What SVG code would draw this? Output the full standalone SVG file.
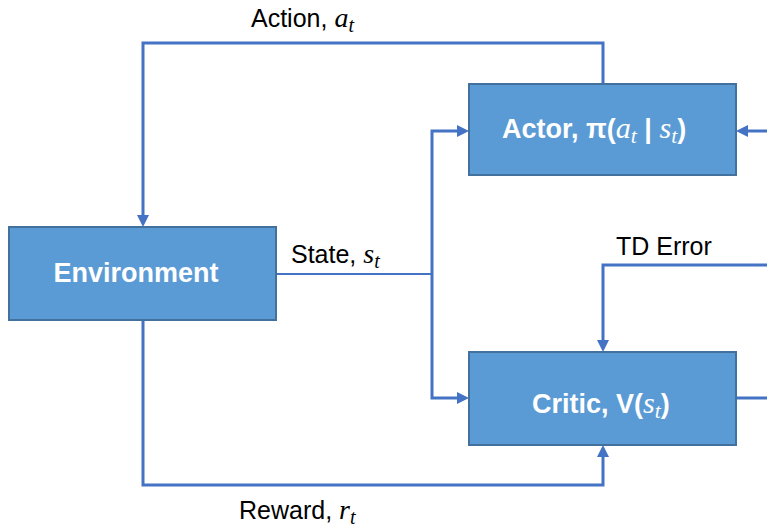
<svg xmlns="http://www.w3.org/2000/svg" width="767" height="527" viewBox="0 0 767 527">
  <style>
    .box { fill: #5B9BD5; stroke: #41719C; stroke-width: 2; }
    .title { font-family: "Liberation Sans", Arial, sans-serif; font-weight: bold; font-size: 27px; fill: #FFFFFF; }
    .label { font-family: "Liberation Sans", Arial, sans-serif; font-size: 25px; fill: #000000; }
    .math { font-family: "Liberation Serif", "DejaVu Serif", serif; font-style: italic; font-weight: normal; font-size: 1.12em; }
    .sub { font-family: "Liberation Serif", "DejaVu Serif", serif; font-style: italic; font-weight: normal; font-size: 0.8em; }
    .wire { fill: none; stroke: #4472C4; stroke-width: 3; }
    .thin { fill: none; stroke: #4472C4; stroke-width: 1.8; }
  </style>
  <defs>
    <marker id="arrow" markerUnits="userSpaceOnUse" markerWidth="12" markerHeight="12" refX="2" refY="6" orient="auto">
      <path d="M0,0 L12,6 L0,12 z" fill="#4472C4"/>
    </marker>
  </defs>

  <!-- connectors -->
  <g id="connectors">
    <!-- action from actor back to the environment -->
    <path class="wire" d="M603,84 V43 H143 V217" marker-end="url(#arrow)"/>
    <!-- reward from the environment to the critic -->
    <path class="wire" d="M143,320 V485 H603 V455" marker-end="url(#arrow)"/>
    <!-- state out of the environment, split to actor and critic -->
    <path class="thin" d="M276,274 H432"/>
    <path class="wire" d="M432,274 V131 H459" marker-end="url(#arrow)"/>
    <path class="wire" d="M432,274 V398 H459" marker-end="url(#arrow)"/>
    <!-- TD error into the critic -->
    <path class="wire" d="M767,265 H603 V342" marker-end="url(#arrow)"/>
    <!-- critic output to the right edge -->
    <path class="wire" d="M736,398 H767"/>
    <!-- feedback into the actor from the right -->
    <path class="wire" d="M767,131 H746" marker-end="url(#arrow)"/>
  </g>

  <!-- edge labels -->
  <text class="label" x="251" y="27">Action, <tspan class="math">a</tspan><tspan class="sub" dy="5">t</tspan></text>
  <text class="label" x="291" y="263">State, <tspan class="math">s</tspan><tspan class="sub" dy="5">t</tspan></text>
  <text class="label" x="616" y="255">TD Error</text>
  <text class="label" x="239" y="519">Reward, <tspan class="math">r</tspan><tspan class="sub" dy="5">t</tspan></text>

  <g id="environment">
    <rect class="box" x="9" y="227" width="267" height="93"/>
    <text class="title" x="136" y="282" text-anchor="middle">Environment</text>
  </g>

  <g id="actor">
    <rect class="box" x="469" y="84" width="267" height="91"/>
    <text class="title" x="502" y="138">Actor, π(<tspan class="math">a</tspan><tspan class="sub" dy="5">t</tspan><tspan dy="-5"> | </tspan><tspan class="math">s</tspan><tspan class="sub" dy="5">t</tspan><tspan dy="-5">)</tspan></text>
  </g>

  <g id="critic">
    <rect class="box" x="469" y="352" width="267" height="93"/>
    <text class="title" x="532" y="413">Critic, V(<tspan class="math">s</tspan><tspan class="sub" dy="5">t</tspan><tspan dy="-5">)</tspan></text>
  </g>
</svg>
